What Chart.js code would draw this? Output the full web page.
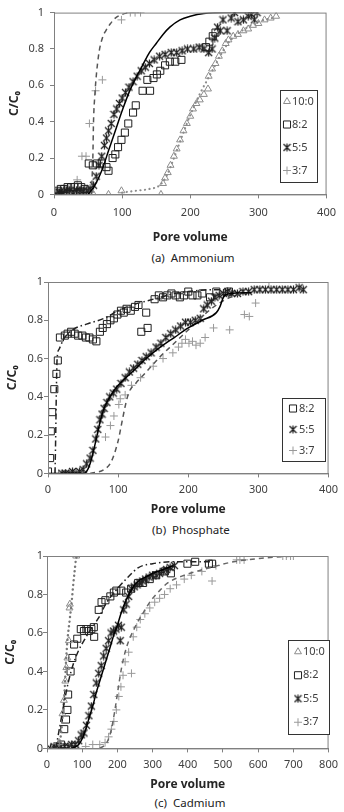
<!DOCTYPE html>
<html>
<head>
<meta charset="utf-8">
<script src="https://cdn.jsdelivr.net/npm/chart.js@4.4.1/dist/chart.umd.min.js"></script>
<style>
  html, body { margin: 0; padding: 0; background: #fff; }
  body { width: 344px; height: 812px; position: relative; overflow: hidden; font-family: 'Noto Sans', sans-serif; }
  canvas { position: absolute; left: 0; }
  .cap { position: absolute; left: 0; width: 386px; text-align: center; font-size: 11.5px; line-height: 16px; color: #222; white-space: pre; }
</style>
</head>
<body>
<canvas id="chA" width="344" height="245" style="top:0px"></canvas>
<div class="cap" style="top:250px">(a)  Ammonium</div>
<canvas id="chB" width="344" height="247" style="top:270px"></canvas>
<div class="cap" style="top:522px;width:382px">(b)  Phosphate</div>
<canvas id="chC" width="344" height="250" style="top:542px"></canvas>
<div class="cap" style="top:795px;width:380px">(c)  Cadmium</div>
<script>
// ---- (a) Ammonium ----
const aPts100 = [[58,0],[80,0],[99,0.02],[157,0],[160,0.06],[163,0.09],[167,0.12],[171,0.16],[176,0.21],[180,0.25],[185,0.3],[190,0.35],[195,0.39],[200,0.43],[204,0.47],[209,0.5],[214,0.52],[220,0.55],[226,0.58],[227,0.65],[232,0.69],[237,0.72],[242,0.76],[247,0.79],[252,0.83],[256,0.85],[263,0.87],[270,0.88],[278,0.9],[285,0.91],[292,0.93],[300,0.94],[309,0.96],[318,0.97],[326,0.98]];
const aPts82 = [[2,0.01],[6,0.02],[10,0.03],[15,0.03],[20,0.04],[25,0.04],[30,0.04],[35,0.05],[40,0.04],[45,0.03],[51,0.17],[57,0.16],[63,0.17],[70,0.17],[77,0.15],[80,0.13],[86,0.2],[90,0.22],[94,0.26],[99,0.3],[104,0.34],[109,0.39],[116,0.45],[120,0.49],[130,0.57],[141,0.57],[137,0.63],[146,0.64],[151,0.66],[156,0.68],[163,0.71],[170,0.73],[178,0.73],[187,0.74],[223,0.81],[228,0.84],[233,0.87],[237,0.89]];
const aPts55 = [[3,0],[8,0.01],[13,0.01],[18,0.02],[23,0.02],[28,0.01],[33,0.02],[38,0.02],[43,0.02],[48,0.02],[53,0.03],[58,0.05],[62,0.1],[66,0.16],[70,0.21],[74,0.27],[77,0.31],[80,0.35],[84,0.39],[88,0.44],[92,0.47],[96,0.5],[100,0.53],[105,0.56],[110,0.59],[116,0.62],[122,0.65],[128,0.68],[134,0.7],[140,0.72],[147,0.74],[155,0.76],[163,0.77],[172,0.78],[180,0.78],[188,0.79],[196,0.8],[205,0.8],[213,0.81],[220,0.8],[227,0.78],[232,0.8],[236,0.86],[240,0.92],[244,0.9],[248,0.96],[254,0.9],[260,0.97],[265,1],[270,0.95],[278,0.96],[285,0.98],[290,0.99],[294,0.96],[298,1]];
const aPts37 = [[0,0.01],[5,0.02],[10,0.02],[16,0.03],[22,0.04],[28,0.03],[34,0.08],[41,0.21],[47,0.21],[52,0.39],[61,0.57],[71,0.63],[99,0.96],[112,1],[119,1],[127,1]];
const aFit100 = [[100,0.01],[120,0.02],[140,0.03],[155,0.05],[165,0.1],[175,0.19],[185,0.29],[195,0.39],[205,0.48],[215,0.56],[225,0.63],[235,0.7],[245,0.77],[255,0.83],[265,0.87],[280,0.91],[300,0.95],[320,0.97]];
const aFit55 = [[50,0],[60,0.05],[70,0.13],[80,0.24],[90,0.35],[100,0.46],[110,0.56],[120,0.64],[130,0.71],[140,0.78],[150,0.83],[160,0.88],[170,0.92],[185,0.96],[200,0.98],[220,0.995],[250,1],[300,1]];
const aFit37 = [[55,0],[56,0.1],[57,0.2],[58,0.4],[60,0.55],[62,0.65],[66,0.78],[71,0.86],[76,0.9],[83,0.94],[90,0.97],[100,0.99],[110,1]];

// ---- (b) Phosphate ----
const bPts82 = [[0,0.01],[3,0.08],[4,0.22],[6,0.32],[9,0.44],[12,0.52],[14,0.59],[17,0.71],[24,0.72],[28,0.73],[33,0.74],[38,0.73],[43,0.72],[49,0.72],[54,0.71],[59,0.71],[64,0.7],[69,0.69],[74,0.74],[78,0.76],[84,0.78],[89,0.8],[94,0.81],[99,0.83],[104,0.85],[108,0.84],[112,0.86],[118,0.85],[124,0.87],[129,0.88],[133,0.74],[142,0.76],[140,0.84],[152,0.91],[158,0.93],[164,0.92],[170,0.93],[176,0.94],[182,0.93],[188,0.92],[194,0.93],[200,0.95],[206,0.93],[213,0.93],[220,0.94],[231,0.92],[240,0.95],[258,0.95]];
const bPts55 = [[20,0],[25,0],[30,0],[35,0.01],[40,0],[45,0.01],[50,0.02],[55,0.05],[60,0.08],[64,0.12],[68,0.18],[71,0.23],[74,0.28],[77,0.31],[80,0.34],[84,0.37],[88,0.4],[93,0.42],[98,0.44],[104,0.47],[110,0.5],[116,0.53],[122,0.55],[128,0.57],[134,0.59],[140,0.61],[147,0.63],[154,0.66],[161,0.68],[168,0.71],[175,0.73],[182,0.75],[189,0.77],[196,0.79],[203,0.79],[210,0.8],[217,0.81],[222,0.86],[227,0.88],[233,0.9],[238,0.92],[244,0.93],[250,0.94],[256,0.95],[262,0.94],[270,0.94],[278,0.95],[286,0.95],[294,0.96],[302,0.96],[310,0.96],[318,0.96],[326,0.96],[334,0.96],[342,0.96],[350,0.96],[358,0.97],[364,0.96]];
const bPts37 = [[5,0],[10,0],[15,0],[25,0],[35,0],[82,0.19],[89,0.25],[94,0.3],[101,0.36],[103,0.39],[110,0.41],[119,0.46],[132,0.5],[150,0.56],[164,0.6],[178,0.63],[186,0.66],[191,0.68],[196,0.7],[201,0.68],[206,0.69],[211,0.67],[217,0.68],[224,0.71],[236,0.76],[259,0.75],[280,0.83],[287,0.82],[296,0.89],[315,1]];
const bFit82 = [[10,0],[11,0.2],[12,0.45],[13,0.6],[16,0.65],[22,0.7],[35,0.75],[55,0.78],[80,0.81],[100,0.85],[120,0.88],[140,0.9],[160,0.92],[180,0.94],[200,0.95],[230,0.96],[260,0.96]];
const bFit55 = [[0,0],[50,0],[55,0.01],[60,0.05],[65,0.12],[70,0.2],[75,0.28],[80,0.34],[90,0.41],[100,0.46],[120,0.53],[140,0.6],[160,0.66],[180,0.71],[200,0.76],[220,0.8],[240,0.84],[245,0.87],[250,0.92],[255,0.935],[260,0.94],[290,0.945]];
const bFit37 = [[60,0],[80,0.02],[90,0.06],[100,0.17],[105,0.26],[110,0.35],[115,0.42],[125,0.47],[140,0.53],[160,0.61],[180,0.68],[200,0.75],[220,0.82],[240,0.88],[260,0.92],[280,0.94]];

// ---- (c) Cadmium ----
const cPts100 = [[20,0.01],[35,0.03],[44,0.18],[48,0.25],[52,0.35],[55,0.42],[58,0.47],[62,0.56],[64,0.73],[65,0.75],[83,1]];
const cPts82 = [[20,0],[30,0.01],[40,0.02],[49,0.1],[54,0.15],[58,0.2],[60,0.28],[67,0.4],[72,0.47],[77,0.54],[86,0.57],[96,0.62],[105,0.61],[112,0.62],[119,0.61],[126,0.62],[133,0.63],[134,0.58],[147,0.72],[155,0.76],[166,0.77],[180,0.79],[190,0.81],[197,0.82],[211,0.82],[225,0.81],[239,0.83],[259,0.86],[273,0.86],[292,0.88],[310,0.9],[335,0.92],[352,0.91],[399,0.96],[421,0.97],[460,0.96],[469,0.96]];
const cPts55 = [[10,0],[20,0.01],[30,0],[40,0.01],[50,0.01],[60,0.01],[70,0.02],[80,0.02],[90,0.04],[97,0.07],[105,0.08],[112,0.12],[119,0.17],[126,0.22],[133,0.28],[140,0.34],[147,0.39],[154,0.43],[161,0.48],[168,0.52],[175,0.56],[182,0.6],[189,0.61],[196,0.62],[203,0.64],[208,0.56],[211,0.63],[218,0.72],[225,0.75],[232,0.79],[240,0.83],[248,0.84],[256,0.85],[264,0.86],[272,0.87],[280,0.88],[290,0.89],[300,0.9],[310,0.9],[320,0.91],[330,0.92],[340,0.93],[350,0.94],[362,0.95]];
const cPts37 = [[10,0],[30,0.01],[50,0],[70,0.01],[90,0],[110,0.01],[130,0.02],[150,0.02],[165,0.03],[175,0.06],[183,0.1],[190,0.14],[197,0.2],[204,0.27],[210,0.32],[216,0.38],[222,0.45],[240,0.39],[232,0.5],[245,0.58],[255,0.63],[265,0.67],[278,0.7],[292,0.73],[306,0.76],[320,0.78],[334,0.8],[350,0.83],[368,0.85],[390,0.88],[410,0.9],[440,0.92],[469,0.87],[480,0.95],[539,0.98],[548,0.98],[560,0.98],[670,1],[680,1],[692,1],[700,1]];
const cFit100 = [[25,0],[35,0.02],[40,0.08],[44,0.16],[50,0.3],[54,0.45],[58,0.56],[64,0.66],[70,0.76],[75,0.86],[79,0.93],[82,0.98],[85,1]];
const cFit82 = [[25,0],[30,0.05],[40,0.15],[50,0.25],[60,0.34],[75,0.44],[90,0.51],[105,0.56],[125,0.62],[147,0.68],[170,0.76],[200,0.83],[230,0.89],[260,0.94],[300,0.96],[360,0.97],[470,0.97]];
const cFit55 = [[70,0],[90,0.02],[100,0.05],[110,0.1],[120,0.16],[130,0.22],[140,0.29],[150,0.35],[160,0.41],[170,0.47],[180,0.53],[190,0.59],[200,0.64],[210,0.7],[220,0.75],[230,0.79],[245,0.84],[260,0.87],[280,0.89],[300,0.91],[330,0.93],[360,0.95]];
const cFit37 = [[150,0],[170,0.03],[183,0.1],[193,0.2],[203,0.32],[212,0.42],[225,0.52],[250,0.63],[275,0.71],[296,0.77],[320,0.82],[343,0.86],[390,0.9],[465,0.94],[530,0.97],[620,0.99],[700,1]];

const yTicks = [0, 0.2, 0.4, 0.6, 0.8, 1];

Chart.defaults.font.family = "'Noto Sans', sans-serif";
Chart.defaults.font.size = 11;
Chart.defaults.color = '#404040';

const BLACK = '#1f1f1f';
const GRAY  = '#8c8c8c';
const AXIS  = '#808080';

const xy = arr => arr.map(([x, y]) => ({ x, y }));

// Excel-like "star" marker: an X with a vertical stroke
function starMarker(color) {
  const c = document.createElement('canvas');
  c.width = 9; c.height = 9;
  const g = c.getContext('2d');
  g.strokeStyle = color;
  g.lineWidth = 1.2;
  g.beginPath();
  g.moveTo(1, 1); g.lineTo(8, 8);
  g.moveTo(8, 1); g.lineTo(1, 8);
  g.moveTo(4.5, 0.5); g.lineTo(4.5, 8.5);
  g.stroke();
  return c;
}
const STAR = starMarker(BLACK);

function pointSet(label, data, style, color, radius) {
  return {
    type: 'scatter', label, data: xy(data),
    pointStyle: style, pointRadius: radius, pointHoverRadius: radius,
    borderColor: color, backgroundColor: 'rgba(0,0,0,0)', borderWidth: 1,
  };
}
function fitLine(data, color, dash, width) {
  return {
    type: 'line', data: xy(data), showLine: true,
    borderColor: color, borderWidth: width, borderDash: dash,
    borderCapStyle: dash.length && dash[0] < 1 ? 'round' : 'butt',
    pointRadius: 0, cubicInterpolationMode: 'monotone', fill: false,
  };
}

// plot frame + legend box inside the plot area
const frameLegend = {
  id: 'frameLegend',
  afterDatasetsDraw(chart, args, opts) {
    const { ctx, chartArea: ca } = chart;
    ctx.save();
    ctx.strokeStyle = AXIS;
    ctx.lineWidth = 1;
    ctx.strokeRect(ca.left + 0.5, ca.top + 0.5, ca.right - ca.left - 1, ca.bottom - ca.top);
    const w = opts.width, h = opts.height;
    const x = Math.round(ca.right - opts.right - w), y = Math.round(ca.bottom - opts.bottom - h);
    ctx.fillStyle = '#fff';
    ctx.fillRect(x, y, w, h);
    ctx.strokeStyle = '#333';
    ctx.strokeRect(x + 0.5, y + 0.5, w, h);
    const step = h / opts.items.length;
    opts.items.forEach((idx, i) => {
      const d = chart.data.datasets[idx];
      const cy = y + step * (i + 0.5);
      ctx.strokeStyle = d.borderColor;
      ctx.fillStyle = 'rgba(0,0,0,0)';
      ctx.lineWidth = 1;
      Chart.helpers.drawPoint(ctx, { pointStyle: d.pointStyle, radius: d.pointRadius, rotation: 0, borderWidth: 1 }, x + opts.mx, cy);
      ctx.fillStyle = '#404040';
      ctx.font = "11px 'Noto Sans', sans-serif";
      ctx.textBaseline = 'middle';
      ctx.textAlign = 'left';
      ctx.fillText(d.label, x + opts.tx, cy);
    });
    ctx.restore();
  }
};

function makeChart(id, cfg) {
  return new Chart(document.getElementById(id), {
    type: 'scatter',
    data: { datasets: cfg.datasets },
    options: {
      responsive: false,
      animation: false,
      layout: { padding: { top: cfg.padTop, right: cfg.padRight, left: 0, bottom: 0 } },
      plugins: {
        legend: { display: false },
        tooltip: { enabled: false },
        frameLegend: cfg.legend,
      },
      scales: {
        x: {
          type: 'linear', min: 0, max: cfg.xMax,
          ticks: { stepSize: 100, padding: cfg.xTickPad, color: '#404040' },
          grid: { drawOnChartArea: false, drawTicks: true, tickLength: 4, color: AXIS },
          border: { display: true, color: AXIS },
          title: { display: true, text: 'Pore volume', color: '#262626',
                   font: { size: 12, weight: 'bold' }, padding: { top: cfg.xTitlePad, bottom: 0 } },
        },
        y: {
          type: 'linear', min: 0, max: 1,
          afterBuildTicks: s => { s.ticks = yTicks.map(v => ({ value: v })); },
          afterFit: s => { s.width = cfg.yWidth; },
          ticks: { padding: cfg.yTickPad, color: '#404040', callback: v => String(+v.toFixed(1)) },
          grid: { drawOnChartArea: false, drawTicks: true, tickLength: 4, color: AXIS },
          border: { display: true, color: AXIS },
          title: { display: true, text: 'C/C₀', color: '#262626',
                   font: { size: 12, weight: 'bold' }, padding: { top: cfg.yTitlePad, bottom: 0 } },
        }
      }
    },
    plugins: [frameLegend]
  });
}

// lines first so they are painted over the markers
makeChart('chA', {
  xMax: 400, padTop: 10, padRight: 11, yWidth: 54, yTickPad: 6, yTitlePad: 7, xTickPad: 8, xTitlePad: 3,
  legend: { items: [3, 4, 5, 6], right: 10, bottom: 12, width: 37, height: 92, mx: 7, tx: 12 },
  datasets: [
    fitLine(aFit55, '#000', [], 1.5),
    fitLine(aFit37, '#555', [5, 4], 1.5),
    fitLine(aFit100, GRAY, [0.1, 4.5], 2.2),
    pointSet('10:0', aPts100, 'triangle', GRAY, 4),
    pointSet('8:2', aPts82, 'rect', BLACK, 5),
    pointSet('5:5', aPts55, STAR, BLACK, 4.5),
    pointSet('3:7', aPts37, 'cross', '#999', 4),
  ]
});

makeChart('chB', {
  xMax: 400, padTop: 12, padRight: 10, yWidth: 48, yTickPad: 1, yTitlePad: 5, xTickPad: 6, xTitlePad: 0,
  legend: { items: [3, 4, 5], right: 4, bottom: 12, width: 43, height: 63, mx: 11, tx: 17 },
  datasets: [
    fitLine(bFit55, '#000', [], 1.5),
    fitLine(bFit82, '#222', [6, 3, 1.5, 3], 1.5),
    fitLine(bFit37, '#555', [5, 4], 1.5),
    pointSet('8:2', bPts82, 'rect', BLACK, 5),
    pointSet('5:5', bPts55, STAR, BLACK, 4.5),
    pointSet('3:7', bPts37, 'cross', '#999', 4),
  ]
});

makeChart('chC', {
  xMax: 800, padTop: 14, padRight: 10, yWidth: 47, yTickPad: 0, yTitlePad: 3, xTickPad: 6, xTitlePad: 0,
  legend: { items: [4, 5, 6, 7], right: 0, bottom: 14, width: 41, height: 94, mx: 10, tx: 15 },
  datasets: [
    fitLine(cFit55, '#000', [], 1.5),
    fitLine(cFit82, '#222', [6, 3, 1.5, 3], 1.5),
    fitLine(cFit37, '#666', [5, 4], 1.5),
    fitLine(cFit100, '#777', [0.1, 4.5], 2.4),
    pointSet('10:0', cPts100, 'triangle', GRAY, 4),
    pointSet('8:2', cPts82, 'rect', BLACK, 5),
    pointSet('5:5', cPts55, STAR, BLACK, 4.5),
    pointSet('3:7', cPts37, 'cross', '#999', 4),
  ]
});
</script>
</body>
</html>
